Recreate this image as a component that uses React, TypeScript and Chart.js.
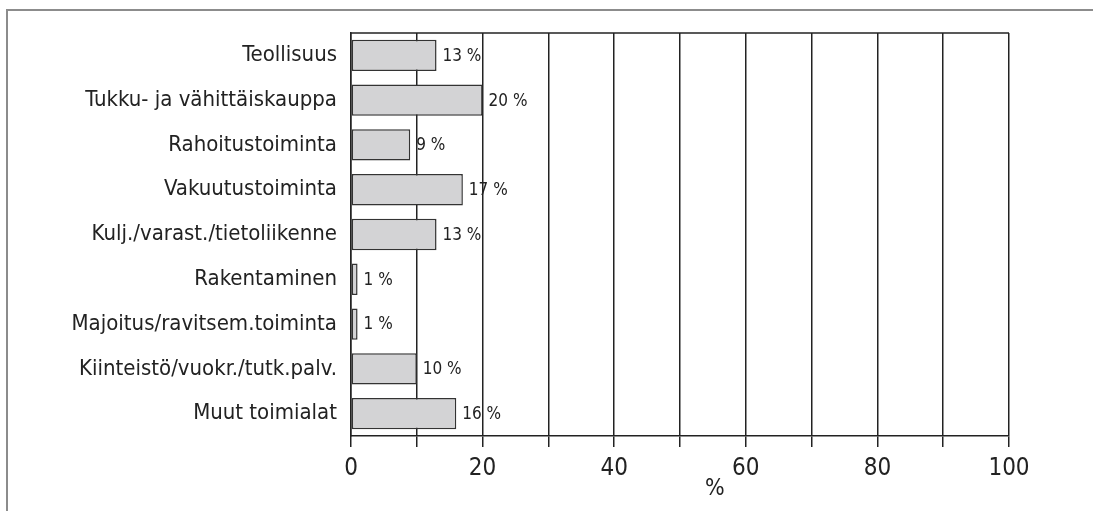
import React, { useEffect, useRef } from "react";
import { Chart, registerables } from "chart.js";

Chart.register(...registerables);

const categories = [
  "Teollisuus",
  "Tukku- ja vähittäiskauppa",
  "Rahoitustoiminta",
  "Vakuutustoiminta",
  "Kulj./varast./tietoliikenne",
  "Rakentaminen",
  "Majoitus/ravitsem.toiminta",
  "Kiinteistö/vuokr./tutk.palv.",
  "Muut toimialat",
];
const shares = [13, 20, 9, 17, 13, 1, 1, 10, 16];
const axisTitle = "%";
const xMin = 0;
const xMax = 100;

const FONT = "'Liberation Sans Narrow', 'DejaVu Sans Condensed', 'Roboto Condensed', 'Liberation Sans', sans-serif";
const INK = "#222";

const decorPlugin = {
  id: "decor",
  beforeDatasetsDraw(chart: any) {
    const { ctx, chartArea } = chart;
    ctx.save();
    ctx.strokeStyle = INK;
    ctx.lineWidth = 1.5;
    ctx.beginPath();
    ctx.moveTo(chartArea.left, chartArea.top);
    ctx.lineTo(chartArea.right, chartArea.top);
    ctx.stroke();
    ctx.restore();
  },
  afterDatasetsDraw(chart: any) {
    const { ctx } = chart;
    const meta = chart.getDatasetMeta(0);
    const data = chart.data.datasets[0].data;
    ctx.save();
    ctx.fillStyle = INK;
    ctx.font = `17px ${FONT}`;
    ctx.textAlign = "left";
    ctx.textBaseline = "middle";
    meta.data.forEach((el: any, i: number) => {
      ctx.fillText(`${data[i]} %`, el.x + 6, el.y + 1);
    });
    ctx.restore();
  },
  afterDraw(chart: any) {
    const { ctx } = chart;
    const xs = chart.scales.x;
    ctx.save();
    ctx.fillStyle = INK;
    ctx.font = `23px ${FONT}`;
    ctx.textAlign = "center";
    ctx.textBaseline = "middle";
    ctx.fillText(axisTitle, xs.getPixelForValue(55.3), xs.bottom - 22);
    ctx.restore();
  },
};

export default function App() {
  const ref = useRef<HTMLCanvasElement | null>(null);

  useEffect(() => {
    if (!ref.current) return;
    const chart = new Chart(ref.current, {
      type: "bar",
      data: {
        labels: categories,
        datasets: [
          {
            data: shares,
            backgroundColor: "#d3d3d5",
            borderColor: "#333",
            borderWidth: 1.5,
            borderSkipped: false,
            barPercentage: 0.7,
            categoryPercentage: 1,
          },
        ],
      },
      options: {
        indexAxis: "y",
        responsive: false,
        animation: false,
        devicePixelRatio: 1,
        layout: { padding: { top: 33, right: 84, left: 0, bottom: 0 } },
        plugins: {
          legend: { display: false },
          tooltip: { enabled: false },
        },
        scales: {
          x: {
            type: "linear",
            min: xMin,
            max: xMax,
            afterFit(scale: any) {
              scale.height = 75;
            },
            ticks: {
              stepSize: 10,
              autoSkip: false,
              maxRotation: 0,
              padding: 7,
              color: INK,
              font: { family: FONT, size: 24 },
              callback: (v: any) => (Number(v) % 20 === 0 ? String(v) : ""),
            },
            grid: {
              color: INK,
              lineWidth: 1.5,
              tickLength: 11,
              drawOnChartArea: true,
            },
            border: { color: INK, width: 1.5 },
          },
          y: {
            type: "category",
            afterFit(scale: any) {
              scale.width = 351;
            },
            ticks: {
              padding: 14,
              color: INK,
              font: { family: FONT, size: 22 },
            },
            grid: { display: false, drawTicks: false },
            border: { color: INK, width: 1.5 },
          },
        },
      },
      plugins: [decorPlugin],
    });
    return () => chart.destroy();
  }, []);

  return (
    <div
      style={{
        position: "fixed",
        left: 0,
        top: 0,
        width: 1093,
        height: 511,
        overflow: "hidden",
        background: "#fff",
      }}
    >
      <div
        style={{
          position: "absolute",
          left: 6,
          top: 9,
          width: 2000,
          height: 1000,
          borderLeft: "2px solid #8c8c8c",
          borderTop: "2px solid #8c8c8c",
        }}
      />
      <canvas
        ref={ref}
        width={1093}
        height={511}
        style={{ position: "absolute", left: 0, top: 0, width: 1093, height: 511 }}
      />
    </div>
  );
}
